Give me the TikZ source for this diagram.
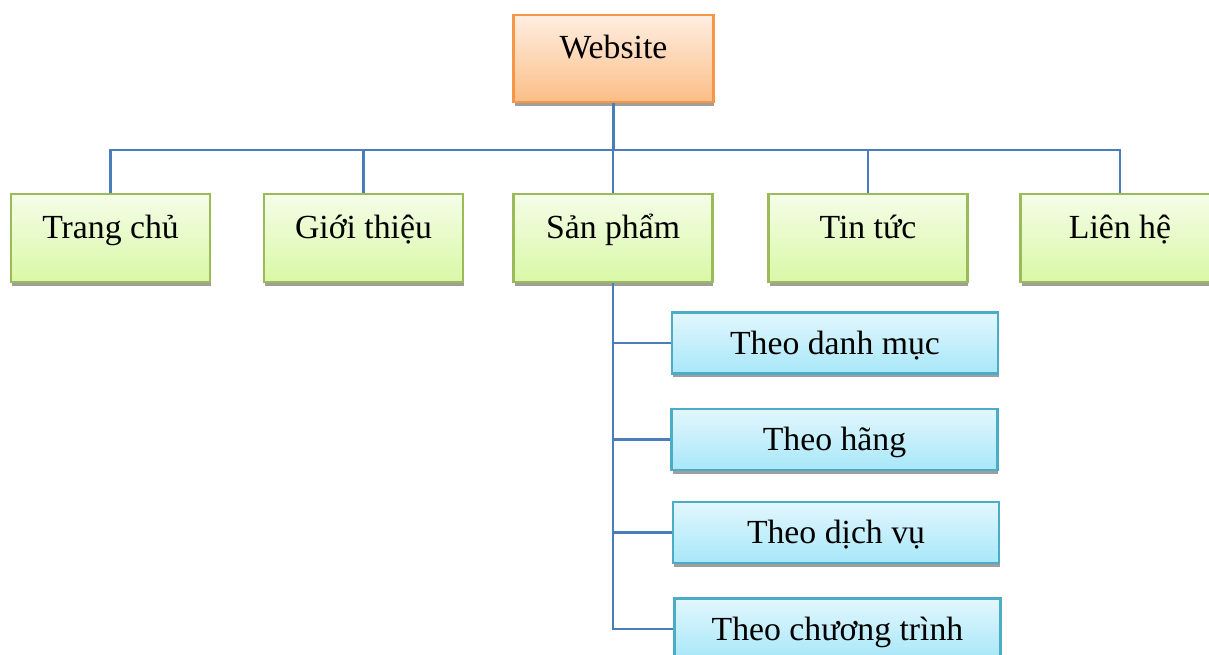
\documentclass[tikz,border=0pt]{standalone}
\usepackage{fontspec}
\setmainfont{Liberation Serif}
\usetikzlibrary{shadows}
\definecolor{linkblue}{HTML}{4A7EBB}
\definecolor{orgline}{HTML}{F79646}
\definecolor{orgtop}{HTML}{FFEEE2}
\definecolor{orgbot}{HTML}{FBBE86}
\definecolor{grnline}{HTML}{9BBB59}
\definecolor{grntop}{HTML}{F5FDE8}
\definecolor{grnbot}{HTML}{D9F8A6}
\definecolor{bluline}{HTML}{4BACC6}
\definecolor{blutop}{HTML}{E2F7FD}
\definecolor{blubot}{HTML}{A8E7F9}
\definecolor{shade}{HTML}{9E9E9E}
\tikzset{
  box/.style={draw, line width=1.2pt, inner sep=0pt,
    font=\fontsize{19.2}{23}\selectfont,
    general shadow={fill=shade, shadow xshift=0.02cm, shadow yshift=-0.08cm}},
  rootbox/.style={box, draw=orgline, top color=orgtop, bottom color=orgbot,
    minimum width=4cm, minimum height=1.74cm, text height=0.4cm, text depth=0.4cm},
  menubox/.style={box, draw=grnline, top color=grntop, bottom color=grnbot,
    minimum width=3.98cm, minimum height=1.76cm, text height=0.4cm, text depth=0.4cm},
  subbox/.style={box, draw=bluline, top color=blutop, bottom color=blubot,
    minimum width=6.52cm, minimum height=1.22cm, text height=0.45cm, text depth=0cm},
  link/.style={draw=linkblue, line width=1.3pt}
}
\begin{document}
\begin{tikzpicture}[x=0.02cm, y=-0.02cm]
\useasboundingbox (0,0) rectangle (1209,655);

% top level
\node[rootbox] (web) at (613.5,58.5) {Website};

% main menu
\node[menubox] (home)    at (110.5,238) {Trang chủ};
\node[menubox] (about)   at (363.5,238) {Giới thiệu};
\node[menubox] (product) at (613,238)   {Sản phẩm};
\node[menubox] (news)    at (868,238)   {Tin tức};
\node[menubox] (contact) at (1120,238)  {Liên hệ};

% product sub-menu
\node[subbox] (cat)     at (835,343)   {Theo danh mục};
\node[subbox] (brand)   at (834.5,439.5) {Theo hãng};
\node[subbox] (service) at (836,532.5) {Theo dịch vụ};
\node[subbox] (promo)   at (837.5,629) {Theo chương trình};

% bus from the root to the main menu
\coordinate (bus) at (web.south |- 0,150);
\draw[link] (web.south) -- (bus);
\draw[link] (home.north) |- (bus) -| (contact.north);
\draw[link] (about.north) -- (about.north |- bus);
\draw[link] (product.north) -- (product.north |- bus);
\draw[link] (news.north) -- (news.north |- bus);

% spine under "Sản phẩm"
\coordinate (spine) at (product.south);
\draw[link] (spine) |- (promo.west);
\draw[link] (cat.west) -- (cat.west -| spine);
\draw[link] (brand.west) -- (brand.west -| spine);
\draw[link] (service.west) -- (service.west -| spine);
\end{tikzpicture}
\end{document}
